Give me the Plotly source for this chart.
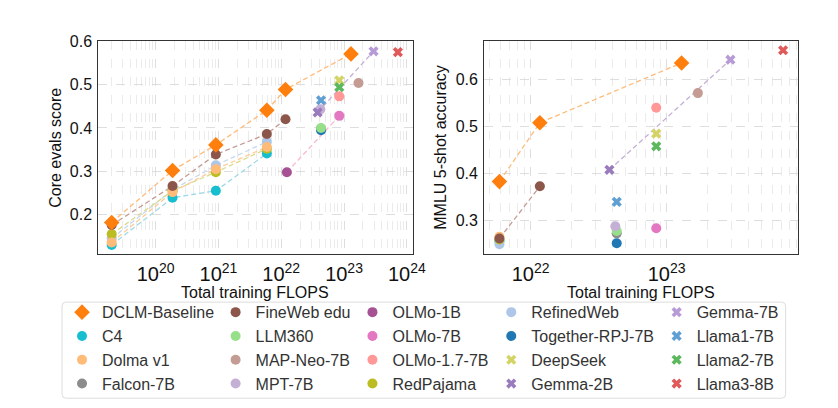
import plotly.graph_objects as go

# ---------------- data ----------------
# training FLOPs at the controlled scales
flops_scales = [2.0e19, 1.86e20, 9.1e20, 5.9e21, 1.17e22, 1.29e23]

# Core evals score (left) for dataset series
core_dclm = [0.182, 0.302, 0.361, 0.441, 0.489, 0.571]
core_fineweb = [0.176, 0.266, 0.339, 0.386, 0.420]
core_c4 = [0.130, 0.239, 0.255, 0.341]
core_dolma = [0.136, 0.252, 0.305, 0.356]
core_redpajama = [0.155, 0.255, 0.298, 0.352]
core_refinedweb = [0.145, 0.257, 0.314, 0.368]

# MMLU 5-shot (right) for dataset series
mmlu_flops_dclm = [5.9e21, 1.17e22, 1.29e23]
mmlu_dclm = [0.383, 0.508, 0.635]
mmlu_flops_fineweb = [5.9e21, 1.17e22]
mmlu_fineweb = [0.262, 0.373]
mmlu_flops_7b = [5.9e21]
mmlu_c4 = [0.256]
mmlu_dolma = [0.266]
mmlu_redpajama = [0.260]
mmlu_refinedweb = [0.250]

# Reference open models: FLOPs, core score, MMLU
model_names = ["Falcon-7B", "Together-RPJ-7B", "LLM360", "MPT-7B", "MAP-Neo-7B", "OLMo-1B",
               "OLMo-7B", "OLMo-1.7-7B", "DeepSeek", "Llama2-7B", "Gemma-2B", "Gemma-7B",
               "Llama1-7B", "Llama3-8B"]
model_flops = [4.3e22, 4.3e22, 4.3e22, 4.2e22, 1.7e23, 1.23e22,
               8.4e22, 8.4e22, 8.4e22, 8.4e22, 3.8e22, 2.95e23,
               4.3e22, 7.2e23]
model_core = [0.398, 0.395, 0.400, 0.443, 0.504, 0.298,
              0.428, 0.473, 0.510, 0.494, 0.436, 0.577,
              0.464, 0.575]
model_mmlu = [0.273, 0.252, 0.278, 0.288, 0.571, None,
              0.284, 0.540, 0.485, 0.458, 0.408, 0.642,
              0.340, 0.662]

legend_columns = [
    ["DCLM-Baseline", "C4", "Dolma v1", "Falcon-7B"],
    ["FineWeb edu", "LLM360", "MAP-Neo-7B", "MPT-7B"],
    ["OLMo-1B", "OLMo-7B", "OLMo-1.7-7B", "RedPajama"],
    ["RefinedWeb", "Together-RPJ-7B", "DeepSeek", "Gemma-2B"],
    ["Gemma-7B", "Llama1-7B", "Llama2-7B", "Llama3-8B"],
]

x_title = "Total training FLOPS"
y_titles = ["Core evals score", "MMLU 5-shot accuracy"]

# ---------------- styles ----------------
colors = {
    "DCLM-Baseline": "#ff7f0e", "C4": "#17becf", "Dolma v1": "#ffbb78",
    "Falcon-7B": "#8c8c8c", "FineWeb edu": "#8c564b", "LLM360": "#98df8a",
    "MAP-Neo-7B": "#c49c94", "MPT-7B": "#c5b0d5", "OLMo-1B": "#a55194",
    "OLMo-7B": "#e377c2", "OLMo-1.7-7B": "#ff9896", "RedPajama": "#bcbd22",
    "RefinedWeb": "#aec7e8", "Together-RPJ-7B": "#1f77b4", "DeepSeek": "#d4d466",
    "Gemma-2B": "#9a7bbd", "Gemma-7B": "#b79bd6", "Llama1-7B": "#5f9fd3",
    "Llama2-7B": "#5cb85c", "Llama3-8B": "#e05a5a",
}
line_colors = {
    "DCLM-Baseline": "#ffbb78", "C4": "#9edae5", "Dolma v1": "#ffcc99",
    "FineWeb edu": "#c49c94", "RedPajama": "#dbdb8d", "RefinedWeb": "#c6d8ee",
    "OLMo": "#f7b6d2", "Gemma": "#c5b0d5",
}
xmarker_models = {"DeepSeek", "Gemma-2B", "Gemma-7B", "Llama1-7B", "Llama2-7B", "Llama3-8B"}

def symbol_of(name):
    if name == "DCLM-Baseline":
        return "diamond"
    if name in xmarker_models:
        return "x"
    return "circle"

def size_of(name):
    if name == "DCLM-Baseline":
        return 12
    if name in xmarker_models:
        return 9
    return 10

legend_of, rank_of = {}, {}
for i, col in enumerate(legend_columns):
    for k, n in enumerate(col):
        legend_of[n] = "legend" if i == 0 else f"legend{i + 1}"
        rank_of[n] = k + 1

fig = go.Figure()
DASH = "5px,3px"

def add_line(x, y, color, xa, ya):
    fig.add_trace(go.Scatter(x=x, y=y, mode="lines", xaxis=xa, yaxis=ya,
                             line=dict(color=color, width=1.3, dash=DASH),
                             showlegend=False, hoverinfo="skip"))

def add_points(name, x, y, xa, ya, show):
    fig.add_trace(go.Scatter(x=x, y=y, mode="markers", name=name, xaxis=xa, yaxis=ya,
                             legend=legend_of[name], legendgroup=name, showlegend=show,
                             legendrank=rank_of[name],
                             marker=dict(symbol=symbol_of(name), size=size_of(name),
                                         color=colors[name], line=dict(width=0))))

series = [
    ("C4", core_c4, mmlu_flops_7b, mmlu_c4),
    ("RefinedWeb", core_refinedweb, mmlu_flops_7b, mmlu_refinedweb),
    ("RedPajama", core_redpajama, mmlu_flops_7b, mmlu_redpajama),
    ("Dolma v1", core_dolma, mmlu_flops_7b, mmlu_dolma),
    ("FineWeb edu", core_fineweb, mmlu_flops_fineweb, mmlu_fineweb),
    ("DCLM-Baseline", core_dclm, mmlu_flops_dclm, mmlu_dclm),
]
for name, core, mx, mv in series:
    add_line(flops_scales[:len(core)], core, line_colors[name], "x", "y")
    if len(mx) > 1:
        add_line(mx, mv, line_colors[name], "x2", "y2")

i1, i7 = model_names.index("OLMo-1B"), model_names.index("OLMo-7B")
add_line([model_flops[i1], model_flops[i7]], [model_core[i1], model_core[i7]], line_colors["OLMo"], "x", "y")
g2, g7 = model_names.index("Gemma-2B"), model_names.index("Gemma-7B")
add_line([model_flops[g2], model_flops[g7]], [model_core[g2], model_core[g7]], line_colors["Gemma"], "x", "y")
add_line([model_flops[g2], model_flops[g7]], [model_mmlu[g2], model_mmlu[g7]], line_colors["Gemma"], "x2", "y2")

for name, core, mx, mv in series:
    add_points(name, flops_scales[:len(core)], core, "x", "y", True)
    add_points(name, mx, mv, "x2", "y2", False)

for n, f, c, m in zip(model_names, model_flops, model_core, model_mmlu):
    add_points(n, [f], [c], "x", "y", True)
    if m is not None:
        add_points(n, [f], [m], "x2", "y2", False)

FONT = "Liberation Sans, Arial, sans-serif"
FS = 16
grid = "#dedede"
axis_common = dict(showline=True, linecolor="#333333", linewidth=1.4, mirror=True,
                   ticks="", showgrid=True, gridcolor=grid, griddash="dash", gridwidth=0.8,
                   zeroline=False, tickfont=dict(size=FS, color="#111", family=FONT))
xlog = dict(type="log", dtick=1, exponentformat="power", showexponent="all",
            ticklabelstandoff=3,
            minor=dict(showgrid=True, gridcolor="#ebebeb", griddash="dash", gridwidth=0.8,
                       dtick="D1", ticks=""))
YDOM = [1 - 251 / 408, 1 - 34 / 408]
ycommon = dict(ticklabelstandoff=2, dtick=0.1, tickformat=".1f", domain=YDOM)

fig.update_layout(
    width=838, height=408,
    margin=dict(l=0, r=0, t=0, b=0),
    paper_bgcolor="white", plot_bgcolor="white",
    font=dict(family=FONT, size=FS, color="#111"),
    xaxis=dict(**axis_common, **xlog, domain=[100 / 838, 419 / 838], range=[19.09, 24.09],
               anchor="y"),
    yaxis=dict(**axis_common, **ycommon, range=[0.109, 0.6], anchor="x"),
    xaxis2=dict(**axis_common, **xlog, domain=[492 / 838, 811 / 838], range=[21.66, 23.97],
                anchor="y2"),
    yaxis2=dict(**axis_common, **ycommon, range=[0.229, 0.681], anchor="x2"),
    hovermode=False,
)

# axis titles as annotations
for xd in (fig.layout.xaxis.domain, fig.layout.xaxis2.domain):
    fig.add_annotation(text=x_title, xref="paper", yref="paper", x=(xd[0] + xd[1]) / 2,
                       y=1 - 290 / 408, xanchor="center", yanchor="middle", showarrow=False,
                       font=dict(size=FS, color="#111", family=FONT))
for txt, px in zip(y_titles, (57, 448)):
    fig.add_annotation(text=txt, xref="paper", yref="paper", x=px / 838,
                       y=(YDOM[0] + YDOM[1]) / 2, xanchor="center", yanchor="middle",
                       textangle=-90, showarrow=False,
                       font=dict(size=FS, color="#111", family=FONT))

legend_text_x = [103, 259, 398, 539, 707]
for i, tx in enumerate(legend_text_x):
    key = "legend" if i == 0 else f"legend{i + 1}"
    fig.update_layout({key: dict(x=(tx - 40) / 838, y=1 - 293 / 408, xanchor="left", yanchor="top",
                                 orientation="v", bgcolor="rgba(0,0,0,0)", borderwidth=0,
                                 font=dict(size=FS, color="#333", family=FONT),
                                 tracegroupgap=0, itemwidth=30, itemsizing="trace")})

# rounded legend frame
x0, x1, y0, y1 = 63 / 838, 798 / 838, 1 - 398 / 408, 1 - 300 / 408
rx, ry = 4 / 838, 4 / 408
path = (f"M {x0 + rx} {y0} L {x1 - rx} {y0} Q {x1} {y0} {x1} {y0 + ry} "
        f"L {x1} {y1 - ry} Q {x1} {y1} {x1 - rx} {y1} L {x0 + rx} {y1} "
        f"Q {x0} {y1} {x0} {y1 - ry} L {x0} {y0 + ry} Q {x0} {y0} {x0 + rx} {y0} Z")
fig.add_shape(type="path", path=path, xref="paper", yref="paper",
              line=dict(color="#dddddd", width=1), fillcolor="rgba(0,0,0,0)", layer="below")

fig.write_html("out.html", config={"displayModeBar": False},
               post_script="document.body.style.margin='0';")
